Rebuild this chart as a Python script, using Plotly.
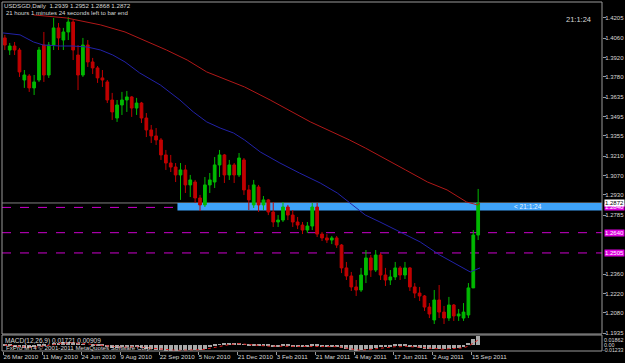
import plotly.graph_objects as go

# ---------------- data ----------------
# 4-trading-day candles (bar index of each group start = 4*k)
opens = [1.4061,1.3974,1.4003,1.3974,1.3758,1.3787,1.3701,1.3758,1.4010,1.3794,
         1.4010,1.4133,1.4046,1.4104,1.4176,1.3938,1.3794,1.4010,1.3888,1.3845,
         1.3773,1.3744,1.3614,1.3484,1.3578,1.3614,1.3636,1.3556,1.3592,1.3484,
         1.3398,1.3355,1.3326,1.3218,1.3160,1.3131,1.3074,1.3110,1.3002,1.3023,
         1.2908,1.2858,1.3002,1.3023,1.3146,1.3218,1.3074,1.3146,1.3074,1.3182,
         1.2966,1.2858,1.2987,1.2858,1.2894,1.2807,1.2735,1.2749,1.2843,1.2785,
         1.2735,1.2713,1.2677,1.2706,1.2843,1.2648,1.2620,1.2605,1.2620,1.2569,
         1.2404,1.2346,1.2267,1.2245,1.2353,1.2476,1.2389,1.2497,1.2353,1.2317,
         1.2339,1.2404,1.2353,1.2404,1.2267,1.2223,1.2202,1.2122,1.2029,1.2173,
         1.2086,1.2043,1.2137,1.2058,1.2043,1.2065,1.2260,1.2641]
highs = [1.4083,1.4025,1.4032,1.3989,1.3830,1.3801,1.3794,1.3996,1.4104,1.4032,
         1.4205,1.4169,1.4133,1.4212,1.4191,1.4010,1.4061,1.4046,1.3917,1.3859,
         1.3830,1.3758,1.3665,1.3614,1.3672,1.3679,1.3643,1.3629,1.3600,1.3520,
         1.3434,1.3412,1.3340,1.3254,1.3218,1.3160,1.3160,1.3146,1.3074,1.3038,
         1.2930,1.3059,1.3088,1.3203,1.3254,1.3225,1.3182,1.3160,1.3232,1.3196,
         1.3002,1.3038,1.3002,1.2922,1.2901,1.2879,1.2785,1.2879,1.2858,1.2821,
         1.2771,1.2735,1.2735,1.2872,1.2872,1.2663,1.2648,1.2634,1.2634,1.2576,
         1.2447,1.2375,1.2317,1.2404,1.2533,1.2497,1.2533,1.2512,1.2404,1.2389,
         1.2447,1.2418,1.2447,1.2411,1.2295,1.2267,1.2209,1.2151,1.2245,1.2281,
         1.2130,1.2195,1.2144,1.2108,1.2151,1.2295,1.2677,1.2973]
lows  = [1.3974,1.3938,1.3938,1.3780,1.3701,1.3672,1.3650,1.3744,1.3744,1.3773,
         1.3974,1.3974,1.3974,1.4046,1.3902,1.3686,1.3780,1.3852,1.3801,1.3737,
         1.3708,1.3592,1.3470,1.3456,1.3506,1.3528,1.3492,1.3506,1.3448,1.3347,
         1.3304,1.3290,1.3182,1.3110,1.3095,1.3023,1.2894,1.2944,1.2915,1.2872,
         1.2814,1.2843,1.2944,1.2980,1.3059,1.3016,1.3038,1.3016,1.3059,1.2930,
         1.2821,1.2836,1.2807,1.2821,1.2785,1.2699,1.2699,1.2735,1.2749,1.2699,
         1.2684,1.2648,1.2656,1.2677,1.2627,1.2598,1.2584,1.2576,1.2548,1.2367,
         1.2317,1.2238,1.2202,1.2231,1.2295,1.2339,1.2375,1.2317,1.2274,1.2281,
         1.2317,1.2317,1.2324,1.2238,1.2187,1.2166,1.2094,1.2043,1.2000,1.2043,
         1.2000,1.2022,1.2022,1.2022,1.2022,1.2043,1.2260,1.2605]
closes = [1.4010,1.4003,1.3974,1.3816,1.3794,1.3701,1.3744,1.3974,1.3794,1.4010,
          1.4133,1.4061,1.4104,1.4176,1.3974,1.3794,1.4010,1.3888,1.3845,1.3773,
          1.3758,1.3614,1.3528,1.3578,1.3614,1.3636,1.3556,1.3592,1.3484,1.3398,
          1.3355,1.3326,1.3218,1.3160,1.3131,1.3074,1.3110,1.3002,1.3038,1.2908,
          1.2858,1.3002,1.3038,1.3146,1.3218,1.3074,1.3146,1.3074,1.3196,1.2966,
          1.2894,1.3002,1.2858,1.2894,1.2807,1.2735,1.2749,1.2843,1.2785,1.2735,
          1.2713,1.2677,1.2706,1.2843,1.2648,1.2620,1.2605,1.2620,1.2569,1.2404,
          1.2346,1.2267,1.2245,1.2353,1.2476,1.2389,1.2497,1.2353,1.2317,1.2339,
          1.2404,1.2353,1.2404,1.2267,1.2223,1.2202,1.2122,1.2072,1.2173,1.2086,
          1.2043,1.2137,1.2058,1.2072,1.2086,1.2260,1.2641,1.2872]
group_size = 4

# moving averages (bar index, price)
blue_bar = [0,14,25,33,47,57,69,80,90,100,112,129,145,156,167,178,189,198,211,227,
            243,260,274,284,297,309,325,342,358,375,383,391]
blue_val = [1.4097,1.4083,1.4032,1.4010,1.4003,1.4003,1.3996,1.3974,1.3938,1.3888,
            1.3809,1.3722,1.3614,1.3528,1.3456,1.3412,1.3376,1.3326,1.3239,1.3160,
            1.3088,1.3016,1.2944,1.2872,1.2785,1.2735,1.2663,1.2591,1.2497,1.2411,
            1.2375,1.2404]
red_bar = [25,52,80,100,134,151,167,189,198,219,252,284,297,330,348,364,380,389,391]
red_val = [1.4227,1.4205,1.4155,1.4104,1.3974,1.3902,1.3816,1.3737,1.3708,1.3614,
           1.3456,1.3326,1.3268,1.3110,1.3023,1.2966,1.2879,1.2858,1.2872]

# MACD (per 4-day group)
macd_hist = [-0.002,-0.003,-0.004,-0.005,-0.006,-0.006,-0.005,
             -0.003,-0.002,0.000,0.003,0.004,0.005,0.006,
             0.004,0.002,0.001,0.000,-0.001,-0.002,-0.003,
             -0.005,-0.006,-0.006,-0.005,-0.004,-0.004,-0.004,
             -0.006,-0.008,-0.009,-0.010,-0.011,-0.012,-0.012,-0.012,-0.011,-0.011,-0.011,-0.010,-0.010,-0.009,
             -0.005,-0.002,0.001,0.002,0.002,0.002,0.003,0.001,
             -0.001,-0.002,-0.003,-0.003,-0.003,-0.004,-0.004,-0.003,-0.003,-0.004,-0.004,-0.004,-0.004,-0.003,-0.003,-0.004,-0.004,-0.004,
             -0.005,-0.007,-0.009,-0.011,-0.012,-0.011,-0.009,-0.008,-0.006,
             -0.005,-0.004,-0.004,-0.003,-0.003,-0.003,-0.004,-0.005,-0.006,
             -0.008,-0.009,-0.009,-0.009,-0.009,-0.008,-0.007,-0.006,
             -0.004,0.002,0.010,0.0172]
macd_signal = [-0.001,-0.002,-0.003,-0.004,-0.005,-0.005,-0.005,
               -0.004,-0.003,-0.002,0.000,0.002,0.003,0.004,
               0.004,0.003,0.002,0.001,0.000,-0.001,-0.002,
               -0.003,-0.004,-0.005,-0.005,-0.005,-0.004,-0.004,
               -0.005,-0.006,-0.007,-0.008,-0.009,-0.010,-0.011,-0.011,-0.011,-0.011,-0.011,-0.010,-0.010,-0.009,
               -0.007,-0.005,-0.003,-0.001,0.000,0.001,0.002,0.001,
               0.000,-0.001,-0.002,-0.002,-0.003,-0.003,-0.003,-0.003,-0.003,-0.003,-0.004,-0.004,-0.004,-0.004,-0.003,-0.003,-0.004,-0.004,
               -0.004,-0.005,-0.007,-0.009,-0.010,-0.011,-0.010,-0.009,-0.008,
               -0.006,-0.005,-0.005,-0.004,-0.004,-0.003,-0.004,-0.004,-0.005,
               -0.006,-0.007,-0.008,-0.009,-0.009,-0.008,-0.008,-0.007,
               -0.006,-0.003,0.003,0.0091]

# x axis labels (bar index -> date)
date_bar = [0,32,64,96,128,160,192,224,256,288,320,352,384]
date_text = ["26 Mar 2010","11 May 2010","24 Jun 2010","9 Aug 2010","22 Sep 2010",
             "5 Nov 2010","21 Dec 2010","3 Feb 2011","21 Mar 2011","4 May 2011",
             "17 Jun 2011","2 Aug 2011","15 Sep 2011"]
price_ticks = [1.4205,1.4060,1.3920,1.3780,1.3635,1.3495,1.3355,1.3210,1.3070,
               1.2930,1.2785,1.2360,1.2220,1.2080,1.1935]

# objects on chart
bid_price = 1.2872
line_mag1 = 1.2840
line_mag2 = 1.2658
line_mag3 = 1.2512
band_from_bar = 143
band_lo, band_hi = 1.2818, 1.2872
macd_lo, macd_hi = -0.01233, 0.01862

# ---------------- figure ----------------
W, H = 625, 363
ML, MR, MT, MB = 2, 23, 2, 12
PH = H - MT - MB
def py(p):  # pixel y -> paper
    return (H - MB - p) / PH
def px(p):  # pixel x -> paper
    return (p - ML) / (W - ML - MR)

xc = [group_size * k + (group_size - 1) / 2 for k in range(len(opens))]

FONT = "Liberation Sans"
TXT = "#d8d8d8"
GRID = "#9a9a9a"

fig = go.Figure()
fig.add_trace(go.Candlestick(
    x=xc, open=opens, high=highs, low=lows, close=closes,
    increasing=dict(line=dict(color="#00b800", width=1), fillcolor="#00b800"),
    decreasing=dict(line=dict(color="#c00000", width=1), fillcolor="#c00000"),
    whiskerwidth=0, showlegend=False, xaxis="x", yaxis="y"))
fig.add_trace(go.Scatter(x=blue_bar, y=blue_val, mode="lines",
                         line=dict(color="#2222a8", width=1), showlegend=False))
fig.add_trace(go.Scatter(x=red_bar, y=red_val, mode="lines",
                         line=dict(color="#b01818", width=1), showlegend=False))
fig.add_trace(go.Bar(x=xc, y=macd_hist, width=3.2, marker=dict(color="#a8a8a8", line=dict(width=0)),
                     xaxis="x", yaxis="y2", showlegend=False))
fig.add_trace(go.Scatter(x=xc, y=macd_signal, mode="lines", xaxis="x", yaxis="y2",
                         line=dict(color="#e02020", width=1, dash="dot"), showlegend=False))

main_bottom = py(334)
macd_top = py(335)

shapes = [
    dict(type="rect", xref="x", yref="y", x0=band_from_bar, x1=491, y0=band_lo, y1=band_hi,
         fillcolor="#3ea2f8", line=dict(width=0), layer="below"),
    dict(type="line", xref="paper", yref="y", x0=0, x1=1, y0=bid_price, y1=bid_price,
         line=dict(color="#808080", width=1), layer="below"),
    dict(type="line", xref="paper", yref="y", x0=0, x1=1, y0=line_mag1, y1=line_mag1,
         line=dict(color="#cc00cc", width=1, dash="dash"), layer="below"),
    dict(type="line", xref="paper", yref="y", x0=0, x1=1, y0=line_mag2, y1=line_mag2,
         line=dict(color="#cc00cc", width=1, dash="dash"), layer="below"),
    dict(type="line", xref="paper", yref="y", x0=0, x1=1, y0=line_mag3, y1=line_mag3,
         line=dict(color="#cc00cc", width=1, dash="dash"), layer="below"),
    dict(type="rect", xref="paper", yref="paper", x0=0, x1=1, y0=main_bottom, y1=1,
         line=dict(color=GRID, width=1)),
    dict(type="rect", xref="paper", yref="paper", x0=0, x1=1, y0=0, y1=macd_top,
         line=dict(color=GRID, width=1)),
]

def label(text, x, y, size=6, color=TXT, anchor="left", bg=None, ref_y="paper", yv=None):
    d = dict(text=text, x=x, xref="paper", y=(yv if yv is not None else py(y)), yref=ref_y,
             xanchor=anchor, yanchor="middle", showarrow=False,
             font=dict(family=FONT, size=size, color=color))
    if bg:
        d.update(bgcolor=bg, borderpad=0)
    return d

annotations = [
    label("USDSGD,Daily  1.2939 1.2952 1.2868 1.2872", px(2), 6, size=6.2),
    label("21 hours 1 minutes 24 seconds left to bar end", px(4), 13, size=6),
    label("21:1:24", px(564), 19, size=7.5),
    label("< 21:1:24", px(512), 206.5, size=6.5, color="#e8f4ff"),
    label("MACD(12,26,9) 0.01721 0.00909", px(3), 341, size=6.5),
    label("FxPro MT4 © 2001-2011 MetaQuotes Software Corp.", px(4), 347, size=6.2),
    label("1.2840", 1.003, 0, size=6, color="#ffffff", bg="#dd00dd", ref_y="y", yv=line_mag1),
    label("1.2872", 1.003, 0, size=6, color="#000000", bg="#ffffff", ref_y="y", yv=bid_price),
    label("1.2640", 1.003, 0, size=6, color="#ffffff", bg="#dd00dd", ref_y="y", yv=line_mag2),
    label("1.2505", 1.003, 0, size=6, color="#ffffff", bg="#dd00dd", ref_y="y", yv=line_mag3),
    label("0.01862", 1.0, 340, size=5.4),
    label("0.00", 1.0, 345, size=5.4),
    label("-0.01233", 0.999, 350, size=5.2),
]

fig.update_layout(
    width=W, height=H, margin=dict(l=ML, r=MR, t=MT, b=MB, autoexpand=False),
    paper_bgcolor="#000000", plot_bgcolor="#000000",
    showlegend=False, bargap=0, boxgap=0.2,
    xaxis=dict(range=[-0.82, 491], anchor="y2", showgrid=False, zeroline=False,
               tickvals=date_bar, ticktext=date_text, ticks="outside", ticklen=3,
               tickcolor=GRID, ticklabelposition="outside right", tickangle=0,
               automargin=False,
               tickfont=dict(family=FONT, size=6.2, color=TXT),
               showline=False, rangeslider=dict(visible=False), fixedrange=True),
    yaxis=dict(domain=[main_bottom, 1], range=[1.1928, 1.4320], side="right", anchor="x",
               showgrid=False, zeroline=False, tickvals=price_ticks, automargin=False,
               ticktext=[f"{v:.4f}" for v in price_ticks], ticks="outside", ticklen=3,
               ticklabelstandoff=-2,
               tickcolor=GRID, tickfont=dict(family=FONT, size=6, color=TXT),
               showline=False),
    yaxis2=dict(domain=[0, macd_top], range=[macd_lo, macd_hi], side="right", anchor="x",
                showgrid=False, zeroline=False, showticklabels=False, ticks="",
                automargin=False),
    shapes=shapes, annotations=annotations,
)

fig.write_html("out.html")
